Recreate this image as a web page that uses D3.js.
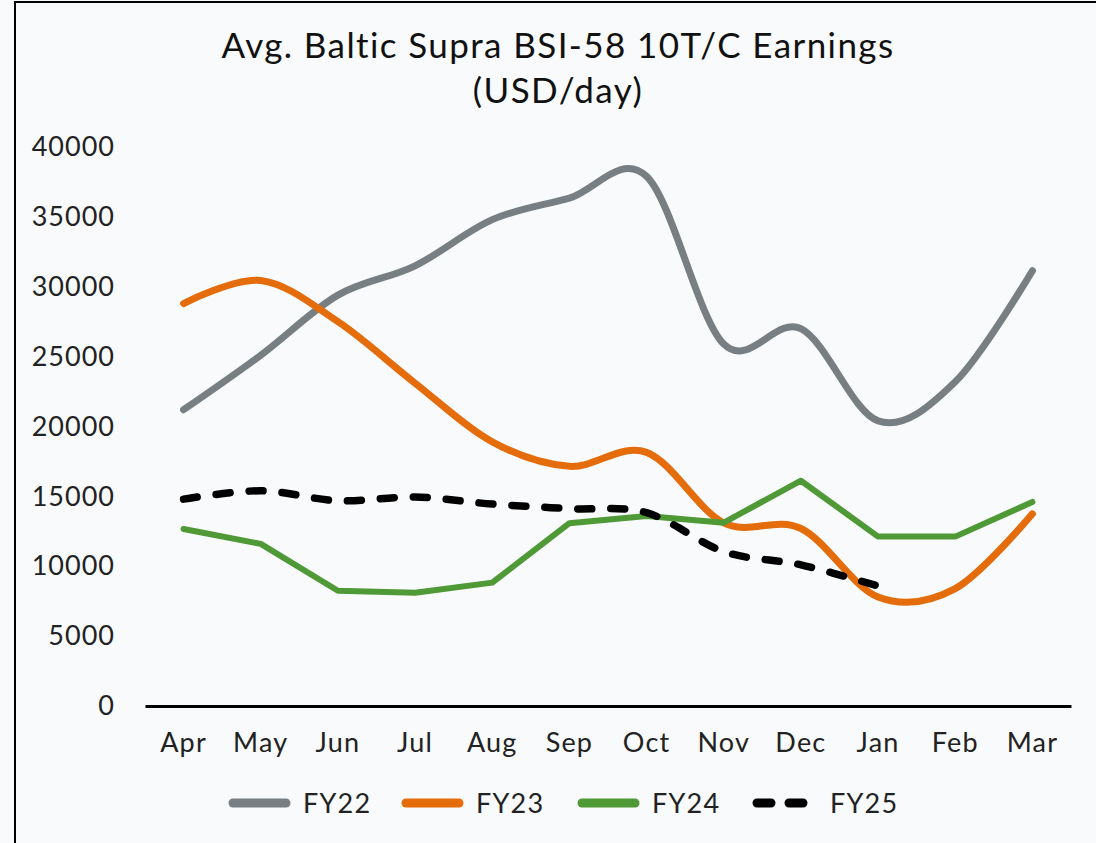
<!DOCTYPE html>
<html>
<head>
<meta charset="utf-8">
<script src="https://cdn.jsdelivr.net/npm/d3@7"></script>
<style>
  html, body { margin: 0; padding: 0; background: #f9fafc; }
  svg { display: block; font-family: Lato, "Open Sans", sans-serif; }
</style>
</head>
<body>
<div id="chart"></div>
<script>
// Chart data (USD/day)
const months = ["Apr", "May", "Jun", "Jul", "Aug", "Sep", "Oct", "Nov", "Dec", "Jan", "Feb", "Mar"];
const yTicks = [0, 5000, 10000, 15000, 20000, 25000, 30000, 35000, 40000];

const fy22 = [21200, 25100, 29400, 31500, 34800, 36350, 37900, 25900, 27000, 20400, 23200, 31150];
const fy23 = [28800, 30450, 27500, 23100, 18900, 17150, 18150, 13100, 12700, 7800, 8400, 13750];
const fy24 = [12670, 11600, 8250, 8110, 8830, 13080, 13600, 13120, 16120, 12120, 12120, 14600];
const fy25 = [14800, 15400, 14690, 14950, 14450, 14120, 13830, 11050, 10100, 8580];

const seriesNames = ["FY22", "FY23", "FY24", "FY25"];

function drawChart() {
    const W = 1096, H = 843;

    const svg = d3.select("#chart")
        .append("svg")
        .attr("width", W)
        .attr("height", H);

    // Background + frame
    svg.append("rect")
        .attr("x", 0).attr("y", 0)
        .attr("width", W).attr("height", H)
        .attr("fill", "#f9fafc");

    svg.append("rect")
        .attr("x", 15).attr("y", 2)
        .attr("width", W + 20).attr("height", H + 20)
        .attr("fill", "none")
        .attr("stroke", "#000")
        .attr("stroke-width", 2);

    const plot = { left: 145, right: 1071, top: 147, bottom: 706 };

    const x = d3.scaleBand()
        .domain(months)
        .range([plot.left, plot.right]);

    const y = d3.scaleLinear()
        .domain([0, 40000])
        .range([plot.bottom, plot.top]);

    // Title
    const title = svg.append("text")
        .attr("text-anchor", "middle")
        .attr("fill", "#111")
        .style("font-size", "35px")
        .style("letter-spacing", "1.4px");
    title.append("tspan").attr("x", 558).attr("y", 58)
        .text("Avg. Baltic Supra BSI-58 10T/C Earnings");
    title.append("tspan").attr("x", 558).attr("y", 103)
        .text("(USD/day)");

    // Y axis (labels only)
    const yAxis = svg.append("g")
        .attr("transform", `translate(${plot.left},0)`)
        .call(d3.axisLeft(y).tickValues(yTicks).tickSize(0).tickPadding(30).tickFormat(d3.format("d")));
    yAxis.select(".domain").remove();
    yAxis.selectAll("text")
        .attr("fill", "#222")
        .style("font-family", "Lato, sans-serif")
        .style("font-size", "27px")
        .style("letter-spacing", "1px");

    // X axis
    const xAxis = svg.append("g")
        .attr("transform", `translate(0,${plot.bottom})`)
        .call(d3.axisBottom(x).tickSize(0).tickPadding(27));
    xAxis.select(".domain")
        .attr("stroke", "#000")
        .attr("stroke-width", 3);
    xAxis.selectAll("text")
        .attr("fill", "#222")
        .style("font-family", "Lato, sans-serif")
        .style("font-size", "27px")
        .style("letter-spacing", "1.2px");

    const cx = m => x(m) + x.bandwidth() / 2;

    const smooth = d3.line()
        .x((d, i) => cx(months[i]))
        .y(d => y(d))
        .curve(d3.curveCatmullRom.alpha(0));

    const straight = d3.line()
        .x((d, i) => cx(months[i]))
        .y(d => y(d));

    const series = [
        { name: "FY22", values: fy22, color: "#787f82", width: 7, line: smooth, dash: null },
        { name: "FY23", values: fy23, color: "#e46c0a", width: 7, line: smooth, dash: null },
        { name: "FY24", values: fy24, color: "#4f9a36", width: 6, line: straight, dash: null },
        { name: "FY25", values: fy25, color: "#000000", width: 7.5, line: smooth, dash: "14,19" }
    ];

    svg.append("g")
        .selectAll("path")
        .data(series)
        .enter()
        .append("path")
        .attr("d", d => d.line(d.values))
        .attr("fill", "none")
        .attr("stroke", d => d.color)
        .attr("stroke-width", d => d.width)
        .attr("stroke-linecap", "round")
        .attr("stroke-linejoin", "round")
        .attr("stroke-dasharray", d => d.dash);

    // Legend
    const legendX = [233, 406, 582, 757];
    const legend = svg.append("g")
        .selectAll("g")
        .data(series)
        .enter()
        .append("g")
        .attr("transform", (d, i) => `translate(${legendX[i]},803)`);

    legend.append("line")
        .attr("x1", 0)
        .attr("x2", d => d.dash ? 46 : 53)
        .attr("stroke", d => d.color)
        .attr("stroke-width", 9)
        .attr("stroke-linecap", "round")
        .attr("stroke-dasharray", d => d.dash ? "14,18" : null);

    legend.append("text")
        .attr("x", (d, i) => i === 3 ? 73 : 70)
        .attr("y", 10)
        .attr("fill", "#222")
        .style("font-size", "27px")
        .style("letter-spacing", "1.2px")
        .text(d => d.name);
}

drawChart();
</script>
</body>
</html>
